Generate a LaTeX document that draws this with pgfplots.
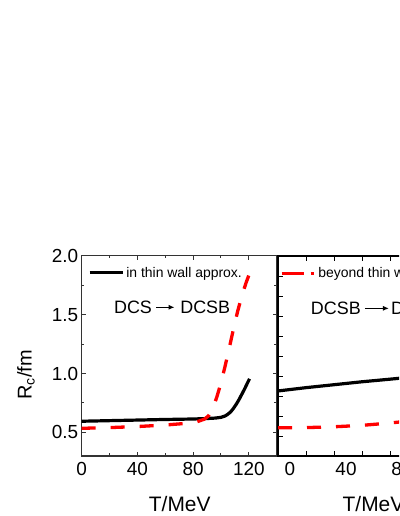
\documentclass[border=0pt]{standalone}
\usepackage{fontspec}
\setmainfont{Liberation Sans}
\usepackage{pgfplots}
\pgfplotsset{compat=1.18}
\usetikzlibrary{arrows.meta}
\definecolor{myred}{RGB}{255,0,0}

\pgfplotsset{
  panel/.style={
    scale only axis, width=#1, height=200.3bp,
    xmin=0, xmax=140, ymin=0.3, ymax=2.0,
    tick align=inside,
    /pgf/number format/assume math mode=true,
    tick label style={font=\fontsize{19}{22}\selectfont},
    label style={font=\fontsize{21}{24}\selectfont},
    xtick={0,40,80,120}, minor x tick num=1,
    legend style={draw=none, fill=none, inner sep=0pt, nodes={inner sep=2bp},
      font=\fontsize{14}{16}\selectfont, anchor=west},
    clip=true,
  },
}

\begin{document}
\begin{tikzpicture}[x=1bp,y=1bp]
\useasboundingbox (0,0) rectangle (399,516);
\clip (0,0) rectangle (399,516);

% ---------------- left panel ----------------
\begin{axis}[panel=195bp,
  at={(81.7bp,60bp)}, anchor=south west,
  axis line style={line width=1.2bp, black!80},
  major tick length=4bp, minor tick length=2.7bp,
  every tick/.style={black!80, line width=1bp},
  ytick={0.5,1.0,1.5,2.0}, minor y tick num=1,
  yticklabel style={/pgf/number format/fixed, /pgf/number format/fixed zerofill, /pgf/number format/precision=1},
  xticklabel style={yshift=-3bp},
  xlabel={T/MeV}, ylabel={R\textsubscript{c}/fm},
  xlabel style={at={(axis description cs:0.5026,-0.238)}, anchor=center},
  ylabel style={at={(axis description cs:-0.286,0.405)}, anchor=center, font=\fontsize{20}{24}\selectfont},
  legend style={at={(rel axis cs:0.032,0.915)}},
  legend image code/.code={\draw[#1] (0bp,0bp) -- (33bp,0bp);},
]
\addplot[black, line width=3.2bp, line join=round] coordinates {
(0,0.595) (20,0.600) (40,0.605) (60,0.610) (80,0.614) (90,0.618) (96,0.622)
(100,0.628) (103,0.640) (105,0.655) (107,0.675) (109,0.705) (111,0.740)
(113,0.780) (115,0.825) (117,0.870) (119,0.920) (120.5,0.955)
};
\addlegendentry{in thin wall approx.}
\addplot[myred, line width=3.3bp, dash pattern=on 14bp off 15bp, forget plot] coordinates {
(0,0.535) (20,0.541) (40,0.550) (60,0.563) (75,0.577) (83,0.592) (88,0.612)
(91,0.640) (94,0.700) (97,0.800) (100,0.920) (103,1.065) (106,1.220)
(109,1.380) (112,1.530) (115,1.660) (118,1.770) (120.5,1.850)
};
\node[anchor=west, inner sep=0pt, font=\fontsize{18}{20}\selectfont] (a) at (axis cs:23.1,1.562) {DCS};
\draw[line width=1.3bp, -{Latex[length=6bp,width=5bp]}] ([xshift=4bp]a.east) -- ([xshift=22.5bp]a.east);
\node[anchor=west, inner sep=0pt, font=\fontsize{18}{20}\selectfont] at ([xshift=28bp]a.east) {DCSB};
\end{axis}

% ---------------- right panel ----------------
\begin{axis}[panel=196bp,
  at={(278bp,60bp)}, anchor=south west,
  axis line style={line width=1.8bp, black},
  major tick length=5bp, minor tick length=5bp,
  every tick/.style={black, line width=1bp},
  ytick={0.463,0.633,0.803,0.973,1.143,1.312,1.482,1.652,1.822},
  yticklabel=\empty,
  xticklabel style={xshift=12bp, yshift=-3bp},
  xlabel={T/MeV},
  xlabel style={at={(axis description cs:0.487,-0.238)}, anchor=center},
  legend style={at={(rel axis cs:0.009,0.912)}},
  legend image code/.code={\draw[#1, dash pattern=on 22bp off 7bp on 3bp off 20bp] (0bp,0bp) -- (33bp,0bp);},
]
\addplot[myred, line width=3.3bp, dash pattern=on 14bp off 15bp] coordinates {
(0,0.540) (20,0.541) (40,0.548) (60,0.560) (80,0.580) (100,0.605)
};
\addlegendentry{beyond thin wall approx.}
\addplot[black, line width=3.2bp, forget plot] coordinates {
(0,0.852) (20,0.880) (40,0.905) (60,0.930) (80,0.952) (100,0.975)
};
\node[anchor=west, inner sep=0pt, font=\fontsize{18}{20}\selectfont] (b) at (axis cs:23.4,1.553) {DCSB};
\draw[line width=1.3bp, -{Latex[length=6bp,width=5bp]}] ([xshift=4bp]b.east) -- ([xshift=28bp]b.east);
\node[anchor=west, inner sep=0pt, font=\fontsize{18}{20}\selectfont] at ([xshift=30bp]b.east) {DCS};
\end{axis}
\end{tikzpicture}
\end{document}
